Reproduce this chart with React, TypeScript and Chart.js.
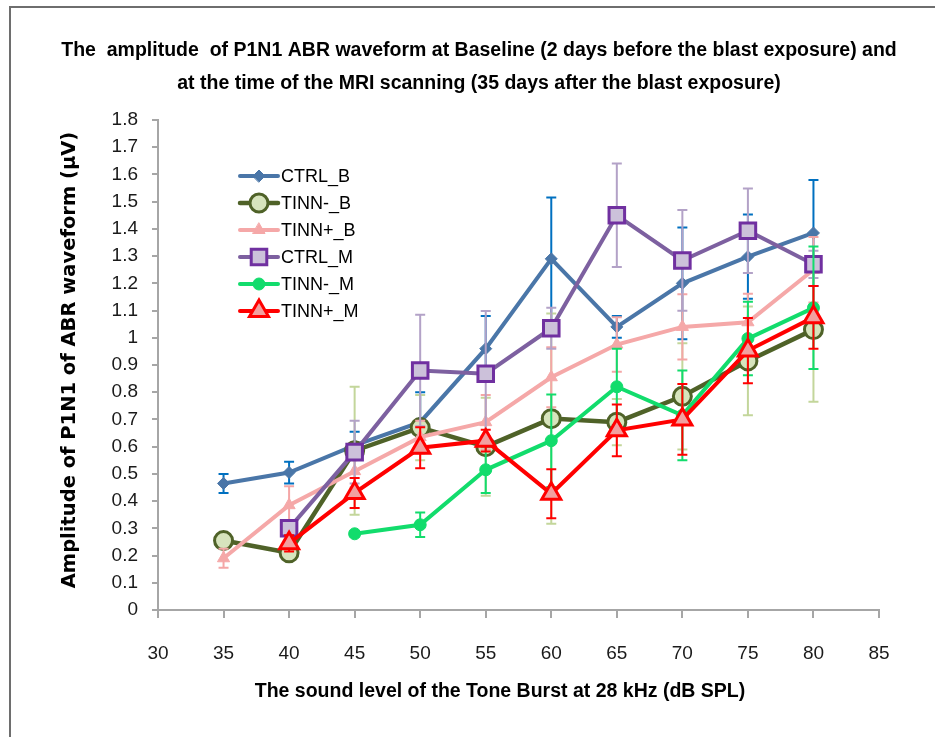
import React, { useEffect, useRef } from "react";
import { Chart, registerables } from "chart.js";
import { drawPoint } from "chart.js/helpers";

Chart.register(...registerables);

const levels = [35, 40, 45, 50, 55, 60, 65, 70, 75, 80];

const seriesNames = ["CTRL_B", "TINN-_B", "TINN+_B", "CTRL_M", "TINN-_M", "TINN+_M"];

const ctrlB = [0.465, 0.505, 0.605, 0.69, 0.96, 1.29, 1.04, 1.2, 1.298, 1.385];
const ctrlBErr = [0.035, 0.04, 0.05, 0.11, 0.12, 0.225, 0.04, 0.205, 0.155, 0.195];

const tinnNegB = [0.255, 0.21, 0.585, 0.67, 0.6, 0.703, 0.69, 0.785, 0.915, 1.03];
const tinnNegBErr = [0.02, 0.02, 0.235, 0.12, 0.18, 0.386, 0.085, 0.195, 0.2, 0.265];

const tinnPosB = [0.19, 0.385, 0.51, 0.635, 0.69, 0.855, 0.975, 1.04, 1.057, 1.25];
const tinnPosBErr = [0.035, 0.07, 0.06, 0.06, 0.1, 0.11, 0.1, 0.12, 0.105, 0.12];

const ctrlM = [null, 0.3, 0.58, 0.88, 0.868, 1.035, 1.45, 1.284, 1.393, 1.27];
const ctrlMErr = [null, 0.02, 0.115, 0.205, 0.23, 0.075, 0.19, 0.185, 0.155, 0.05];

const tinnNegM = [null, null, 0.28, 0.313, 0.515, 0.622, 0.82, 0.715, 0.997, 1.11];
const tinnNegMErr = [null, null, 0.01, 0.045, 0.085, 0.17, 0.14, 0.165, 0.135, 0.225];

const tinnPosM = [null, 0.245, 0.43, 0.596, 0.622, 0.427, 0.66, 0.7, 0.953, 1.075];
const tinnPosMErr = [null, 0.03, 0.055, 0.075, 0.04, 0.09, 0.095, 0.13, 0.12, 0.115];

const xTicksMin = 30;
const xTicksMax = 85;
const yTicksMin = 0;
const yTicksMax = 1.8;

const titleLines = [
  "The  amplitude  of P1N1 ABR waveform at Baseline (2 days before the blast exposure) and",
  "at the time of the MRI scanning (35 days after the blast exposure)",
];
const xTitle = "The sound level of the Tone Burst at 28 kHz (dB SPL)";
const yTitle = "Amplitude of P1N1 of ABR waveform (\u00b5V)";

const values = [ctrlB, tinnNegB, tinnPosB, ctrlM, tinnNegM, tinnPosM];
const errors = [ctrlBErr, tinnNegBErr, tinnPosBErr, ctrlMErr, tinnNegMErr, tinnPosMErr];

const styles = [
  { line: "#4A76A8", fill: "#4A76A8", border: "#4A76A8", err: "#0070C0", pointStyle: "rectRot", radius: 6, bw: 1, lw: 4 },
  { line: "#4F6228", fill: "#D7E4BD", border: "#4F6228", err: "#C3D69B", pointStyle: "circle", radius: 9, bw: 3, lw: 4.5 },
  { line: "#F5A8A8", fill: "#F5A8A8", border: "#F5A8A8", err: "#F4A6A6", pointStyle: "triangle", radius: 7, bw: 1, lw: 4 },
  { line: "#7D60A0", fill: "#CCC1DA", border: "#7030A0", err: "#B3A2C7", pointStyle: "rect", radius: 11, bw: 3, lw: 4 },
  { line: "#12DC6C", fill: "#12DC6C", border: "#12DC6C", err: "#12DC6C", pointStyle: "circle", radius: 6, bw: 1, lw: 4 },
  { line: "#FF0000", fill: "#F2A0A0", border: "#FF0000", err: "#FF0000", pointStyle: "triangle", radius: 11, bw: 3, lw: 4 },
];

const SANS = '"Liberation Sans", Arial, sans-serif';
const WIDE = '"DejaVu Sans", Verdana, sans-serif';

export default function App() {
  const ref = useRef<HTMLCanvasElement>(null);

  useEffect(() => {
    const canvas = ref.current;
    if (!canvas) return;

    const datasets = values.map((vals, i) => {
      const s = styles[i];
      const pts = levels
        .map((lv, k) => (vals[k] == null ? null : { x: lv, y: vals[k] as number }))
        .filter((p) => p !== null);
      return {
        label: seriesNames[i],
        data: pts,
        borderColor: s.line,
        backgroundColor: s.fill,
        borderWidth: s.lw,
        pointStyle: s.pointStyle,
        pointRadius: s.radius,
        pointHoverRadius: s.radius,
        pointBackgroundColor: s.fill,
        pointBorderColor: s.border,
        pointBorderWidth: s.bw,
        tension: 0,
        order: values.length - i,
      };
    });

    const errorBars = {
      id: "errorBars",
      beforeDatasetDraw(chart: any, args: any) {
        const i = args.index;
        const vals = values[i];
        const errs = errors[i];
        const { ctx } = chart;
        const x = chart.scales.x;
        const y = chart.scales.y;
        ctx.save();
        ctx.strokeStyle = styles[i].err;
        ctx.lineWidth = 2;
        levels.forEach((lv, k) => {
          const v = vals[k];
          const e = errs[k];
          if (v == null || e == null) return;
          const px = x.getPixelForValue(lv);
          const top = y.getPixelForValue(v + e);
          const bot = y.getPixelForValue(v - e);
          ctx.beginPath();
          ctx.moveTo(px, top);
          ctx.lineTo(px, bot);
          ctx.moveTo(px - 5, top);
          ctx.lineTo(px + 5, top);
          ctx.moveTo(px - 5, bot);
          ctx.lineTo(px + 5, bot);
          ctx.stroke();
        });
        ctx.restore();
      },
    };

    const decorations = {
      id: "decorations",
      beforeDraw(chart: any) {
        const { ctx } = chart;
        ctx.save();
        ctx.fillStyle = "#ffffff";
        ctx.fillRect(0, 0, chart.width, chart.height);
        ctx.strokeStyle = "#6E6E6E";
        ctx.lineWidth = 2;
        ctx.beginPath();
        ctx.moveTo(10, chart.height);
        ctx.lineTo(10, 7);
        ctx.lineTo(chart.width, 7);
        ctx.stroke();
        ctx.restore();
      },
      afterDraw(chart: any) {
        const { ctx } = chart;
        ctx.save();
        ctx.fillStyle = "#000";
        ctx.textAlign = "center";
        ctx.textBaseline = "middle";
        ctx.font = `bold 19.5px ${SANS}`;
        ctx.fillText(titleLines[0], 479, 51);
        ctx.fillText(titleLines[1], 479, 84);
        ctx.font = `bold 19.5px ${SANS}`;
        ctx.fillText(xTitle, 500, 692);
        ctx.save();
        ctx.translate(70, 360);
        ctx.rotate(-Math.PI / 2);
        ctx.font = `bold 19.5px ${WIDE}`;
        ctx.fillText(yTitle, 0, 0);
        ctx.restore();

        // legend
        seriesNames.forEach((name, i) => {
          const s = styles[i];
          const ly = 176 + 27 * i;
          ctx.strokeStyle = s.line;
          ctx.lineWidth = s.lw;
          ctx.lineCap = "round";
          ctx.beginPath();
          ctx.moveTo(240, ly);
          ctx.lineTo(278, ly);
          ctx.stroke();
          ctx.fillStyle = s.fill;
          ctx.strokeStyle = s.border;
          ctx.lineWidth = s.bw;
          drawPoint(ctx, { pointStyle: s.pointStyle as any, radius: s.radius, rotation: 0, borderWidth: s.bw }, 259, ly);
          ctx.fillStyle = "#000";
          ctx.textAlign = "left";
          ctx.font = `18px ${SANS}`;
          ctx.fillText(name, 281, ly + 1);
        });
        ctx.restore();
      },
    };

    const chart = new Chart(canvas, {
      type: "line",
      data: { datasets: datasets as any },
      options: {
        animation: false,
        responsive: false,
        devicePixelRatio: 1,
        events: [],
        layout: { padding: { top: 120, right: 56, left: 0, bottom: 0 } },
        plugins: { legend: { display: false }, title: { display: false }, tooltip: { enabled: false } },
        scales: {
          x: {
            type: "linear",
            min: xTicksMin,
            max: xTicksMax,
            ticks: { stepSize: 5, color: "#1a1a1a", font: { family: SANS, size: 19 }, padding: 24, maxRotation: 0, autoSkip: false },
            grid: { drawOnChartArea: false, drawTicks: true, tickLength: 8, color: "#A6A6A6", lineWidth: 2 },
            border: { color: "#A6A6A6", width: 2 },
            afterFit: (s: any) => {
              s.height = 127;
            },
          },
          y: {
            type: "linear",
            min: yTicksMin,
            max: yTicksMax,
            ticks: {
              stepSize: 0.1,
              autoSkip: false,
              color: "#1a1a1a",
              font: { family: SANS, size: 19 },
              padding: 14,
              callback: (v: any) => String(Math.round(Number(v) * 10) / 10),
            },
            grid: { drawOnChartArea: false, drawTicks: true, tickLength: 6, color: "#A6A6A6", lineWidth: 2 },
            border: { color: "#A6A6A6", width: 2 },
            afterFit: (s: any) => {
              s.width = 158;
            },
          },
        },
      },
      plugins: [decorations, errorBars],
    });

    return () => chart.destroy();
  }, []);

  return (
    <div style={{ position: "fixed", left: 0, top: 0, width: 935, height: 737, background: "#fff" }}>
      <canvas ref={ref} width={935} height={737} style={{ display: "block", width: 935, height: 737 }} />
    </div>
  );
}
